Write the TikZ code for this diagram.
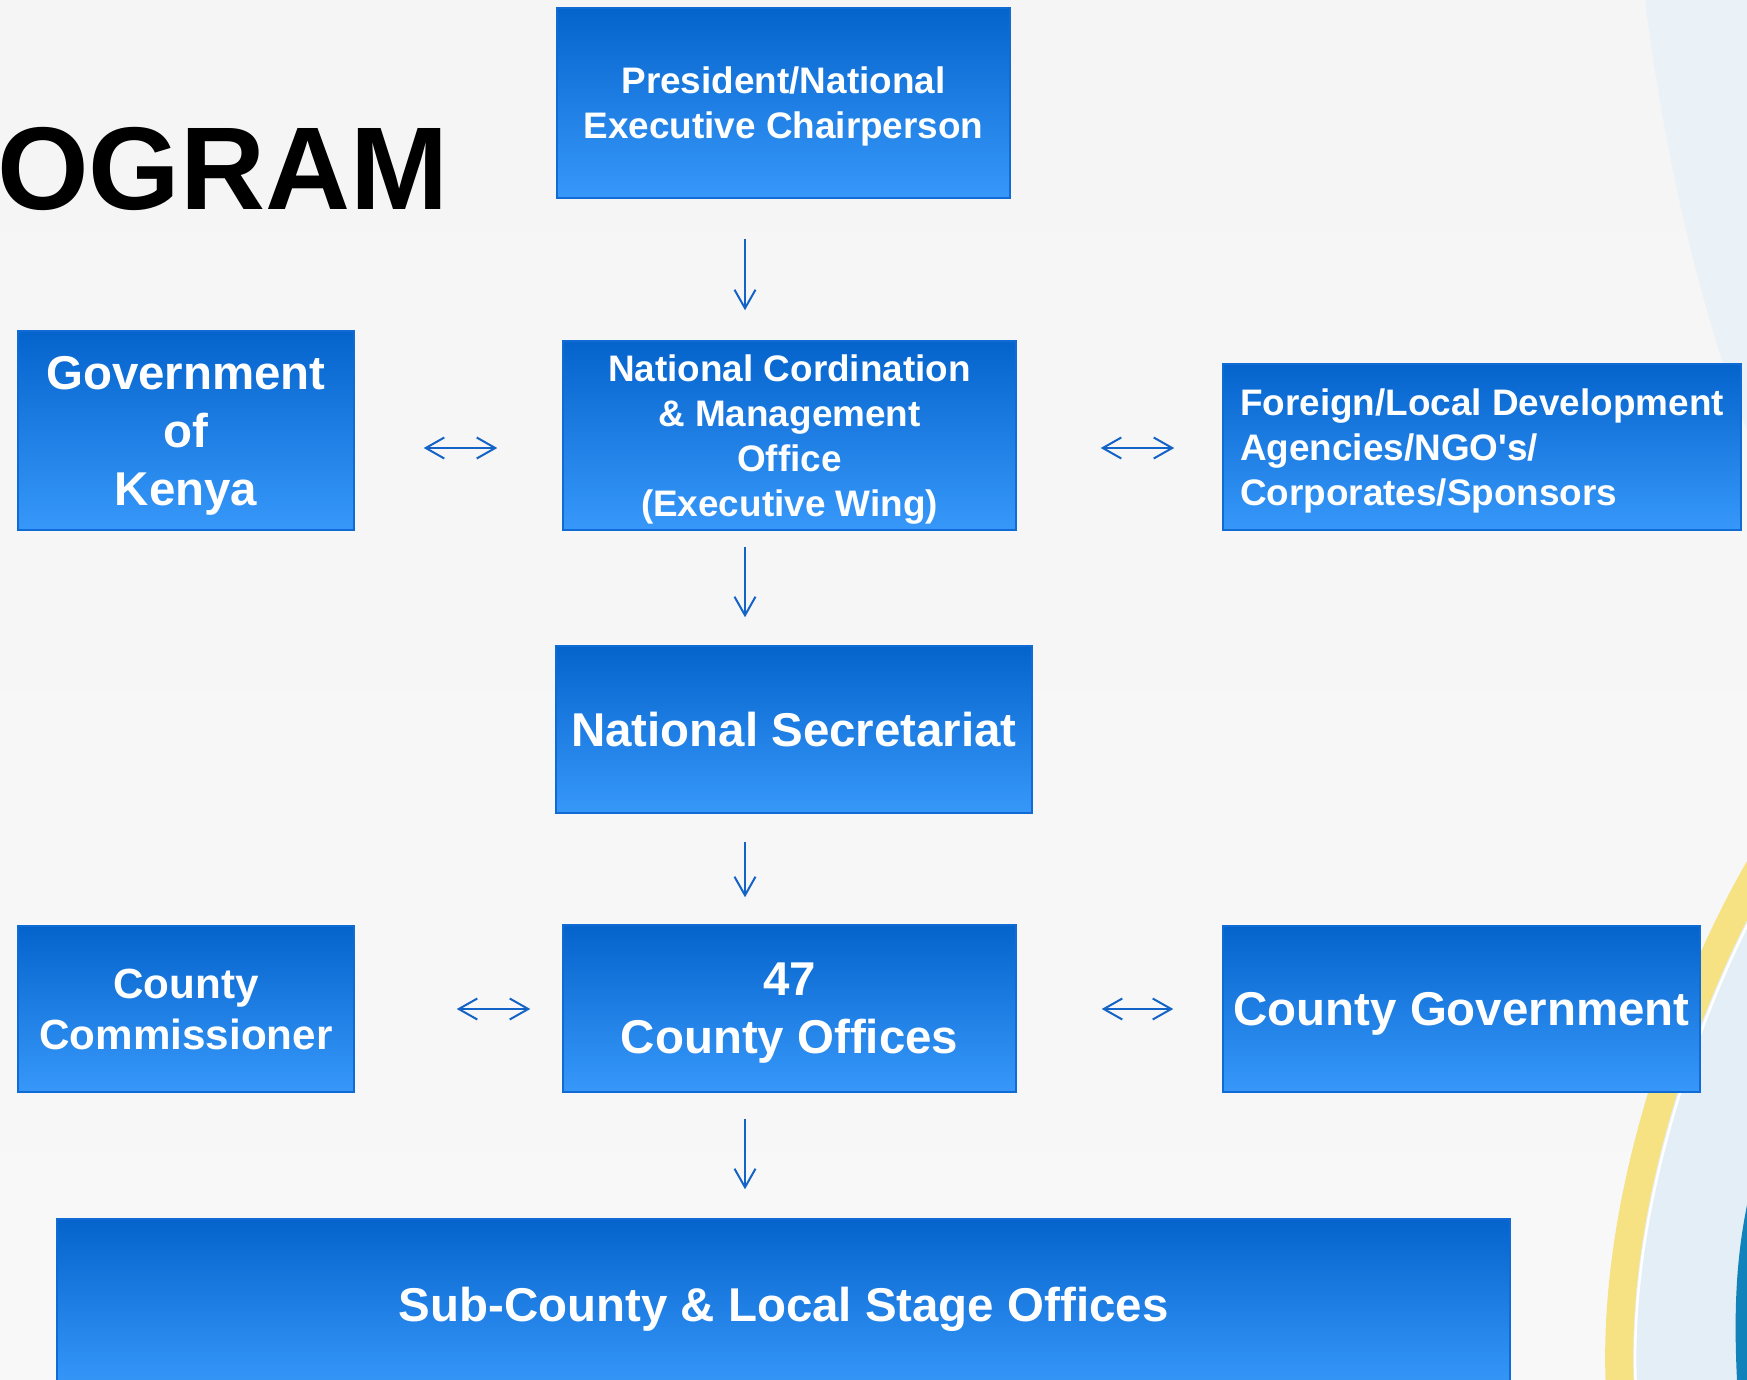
\documentclass[tikz,border=0pt]{standalone}
\usepackage{fontspec}
\setmainfont{Liberation Sans}
\usepackage{xcolor}
\usetikzlibrary{positioning,calc,arrows.meta}

\definecolor{slidebg}{RGB}{245,245,245}
\definecolor{slidebgb}{RGB}{248,248,248}
\definecolor{boxtop}{RGB}{5,100,204}
\definecolor{boxbottom}{RGB}{55,152,250}
\definecolor{boxedge}{RGB}{16,108,212}
\definecolor{linkblue}{RGB}{20,100,200}
\definecolor{decoblue}{RGB}{228,238,246}
\definecolor{decotint}{RGB}{234,241,247}
\definecolor{decoyellow}{RGB}{246,226,130}
\definecolor{decoteal}{RGB}{18,130,186}

\tikzset{
  orgbox/.style={draw=boxedge, line width=0.3mm, top color=boxtop, bottom color=boxbottom,
    text=white, align=center, inner sep=0pt, text depth=0pt},
  smalltext/.style={font=\bfseries\fontsize{21}{25.5}\selectfont},
  midtext/.style={font=\bfseries\fontsize{24}{29}\selectfont},
  bigtext/.style={font=\bfseries\fontsize{27}{33}\selectfont},
  link/.style={draw=linkblue, line width=0.4mm, >={Straight Barb[length=3.7mm,width=4.2mm]}}
}

\begin{document}
\begin{tikzpicture}[x=0.2mm, y=-0.2mm]
    % Slide background
    \useasboundingbox (0,0) rectangle (1747,1380);
    \shade[top color=slidebg, bottom color=slidebgb] (0,0) rectangle (1747,1380);
    \fill[decotint] (1645,0) .. controls (1670,200) and (1715,350) .. (1747,430) -- (1747,0) -- cycle;
    \fill[decoblue] (1770,850) .. controls (1690,980) and (1610,1200) .. (1620,1390) -- (1760,1390) -- (1760,850) -- cycle;
    \draw[decoyellow, line width=5.6mm] (1770,850) .. controls (1690,980) and (1610,1200) .. (1620,1390);
    \draw[white, line width=0.5mm] (1786,855) .. controls (1706,985) and (1626,1205) .. (1636,1390);
    \fill[decoteal] (1747,1205) .. controls (1738,1250) and (1733,1300) .. (1737,1380) -- (1747,1380) -- cycle;

    % Title (cut off)
    \node[font=\bfseries\fontsize{67}{67}\selectfont, anchor=base east, inner sep=0pt] (title) at (449,209) {OGRAM};

    % Boxes
    \node[orgbox, smalltext, minimum width=90.6mm, minimum height=38mm] (pres) at (783.5,103)
        {President/National\\Executive Chairperson};
    \node[orgbox, smalltext, minimum width=90.6mm, minimum height=37.8mm] (ncmo) at (789.5,435.5)
        {National Cordination\\\& Management\\Office\\(Executive Wing)};
    \node[orgbox, bigtext, minimum width=67.2mm, minimum height=39.8mm] (gok) at (186,430.5)
        {Government\\of\\Kenya};
    \node[orgbox, smalltext, align=left, minimum width=103.6mm, minimum height=33.2mm] (donors) at (1482,447)
        {Foreign/Local Development\\Agencies/NGO\textquotesingle s/\\Corporates/Sponsors};
    \node[orgbox, bigtext, minimum width=95.2mm, minimum height=33.4mm] (natsec) at (794,729.5)
        {National Secretariat};
    \node[orgbox, midtext, minimum width=67.2mm, minimum height=33.2mm] (commish) at (186,1009)
        {County\\Commissioner};
    \node[orgbox, bigtext, minimum width=90.6mm, minimum height=33.4mm] (cooff) at (789.5,1008.5)
        {47\\County Offices};
    \node[orgbox, bigtext, minimum width=95.4mm, minimum height=33.2mm] (cogov) at (1461.5,1009)
        {County Government};
    \node[orgbox, bigtext, minimum width=290.6mm, minimum height=34mm] (subco) at (783.5,1304)
        {Sub-County \& Local Stage Offices};

    % Connectors
    \coordinate (spine) at (745,0);
    \coordinate (row1) at (0,448);
    \coordinate (row2) at (0,1009);
    \draw[link, ->, shorten <=8mm, shorten >=6mm] (pres.south -| spine) -- (ncmo.north -| spine);
    \draw[link, ->, shorten <=3.2mm, shorten >=5.6mm] (ncmo.south -| spine) -- (natsec.north -| spine);
    \draw[link, ->, shorten <=5.6mm, shorten >=5.4mm] (natsec.south -| spine) -- (cooff.north -| spine);
    \draw[link, ->, shorten <=5.2mm, shorten >=5.8mm] (cooff.south -| spine) -- (subco.north -| spine);
    \draw[link, <->, shorten <=13.8mm, shorten >=13mm] (gok.east |- row1) -- (ncmo.west |- row1);
    \draw[link, <->, shorten <=16.8mm, shorten >=9.6mm] (ncmo.east |- row1) -- (donors.west |- row1);
    \draw[link, <->, shorten <=20.4mm, shorten >=6.4mm] (commish.east |- row2) -- (cooff.west |- row2);
    \draw[link, <->, shorten <=17mm, shorten >=9.8mm] (cooff.east |- row2) -- (cogov.west |- row2);
\end{tikzpicture}
\end{document}
